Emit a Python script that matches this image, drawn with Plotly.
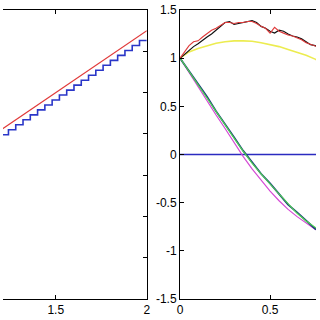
import plotly.graph_objects as go

# ---- left panel data ----
left_line_x = [1.16, 2.0]
left_line_y = [3.98, 6.5]
left_step_x = [1.16, 1.20, 1.24, 1.28, 1.32, 1.36, 1.40, 1.44, 1.48, 1.52, 1.56,
               1.60, 1.64, 1.68, 1.72, 1.76, 1.80, 1.84, 1.88, 1.92, 1.96, 2.00]
left_step_y = [3.86, 3.98, 4.10, 4.22, 4.34, 4.46, 4.58, 4.70, 4.82, 4.94, 5.06,
               5.18, 5.30, 5.42, 5.54, 5.66, 5.78, 5.90, 6.02, 6.14, 6.26, 6.26]
left_xticks = [1.5, 2]
left_xticktext = ["1.5", "2"]

# ---- right panel data ----
xs = [0, 0.05, 0.1, 0.15, 0.2, 0.25, 0.3, 0.35, 0.4, 0.45, 0.5, 0.55, 0.6, 0.65, 0.7, 0.75, 0.8]
yellow_y = [1.0, 1.065, 1.10, 1.13, 1.155, 1.17, 1.18, 1.18, 1.175, 1.16, 1.14, 1.12, 1.09, 1.06, 1.03, 0.99, 0.95]
green_y = [1.0, 0.86, 0.72, 0.58, 0.44, 0.305, 0.17, 0.035, -0.09, -0.2, -0.31, -0.41, -0.51, -0.61, -0.69, -0.76, -0.82]
magenta_y = [1.0, 0.85, 0.70, 0.55, 0.41, 0.27, 0.12, -0.02, -0.15, -0.27, -0.38, -0.48, -0.57, -0.645, -0.71, -0.775, -0.82]
dark_y = [1.0, 0.87, 0.73, 0.60, 0.45, 0.32, 0.18, 0.04, -0.08, -0.20, -0.30, -0.41, -0.52, -0.60, -0.69, -0.77, -0.82]

xf = [0, 0.025, 0.05, 0.075, 0.1, 0.125, 0.15, 0.175, 0.2, 0.225, 0.25, 0.275, 0.3, 0.325, 0.35, 0.375,
      0.4, 0.425, 0.45, 0.475, 0.5, 0.525, 0.55, 0.575, 0.6, 0.625, 0.65, 0.675, 0.7, 0.725, 0.75, 0.775]
black_y = [1.0, 1.04, 1.08, 1.12, 1.15, 1.19, 1.22, 1.25, 1.29, 1.33, 1.37, 1.38, 1.35, 1.36, 1.37, 1.38,
           1.39, 1.37, 1.33, 1.31, 1.28, 1.26, 1.29, 1.28, 1.25, 1.23, 1.22, 1.20, 1.17, 1.14, 1.13, 1.11]
red_y = [1.0, 1.07, 1.13, 1.17, 1.18, 1.22, 1.26, 1.29, 1.31, 1.34, 1.37, 1.37, 1.36, 1.37, 1.37, 1.38,
         1.38, 1.36, 1.33, 1.31, 1.26, 1.32, 1.28, 1.26, 1.24, 1.23, 1.21, 1.19, 1.16, 1.14, 1.12, 1.11]
zero_x = [0, 1]
zero_y = [0, 0]
right_yticks = [-1.5, -1, -0.5, 0, 0.5, 1, 1.5]
right_yticktext = ["-1.5", "-1", "-0.5", "0", "0.5", "1", "1.5"]
right_xticks = [0, 0.5]
right_xticktext = ["0", "0.5"]

fig = go.Figure()

def add(x, y, color, width, ax, shape="linear"):
    fig.add_trace(go.Scatter(x=x, y=y, mode="lines", line=dict(color=color, width=width, shape=shape),
                             xaxis=ax[0], yaxis=ax[1], showlegend=False, hoverinfo="skip"))

add(left_step_x, left_step_y, "#2a36c8", 1.6, ("x", "y"), "hv")
add(left_line_x, left_line_y, "#e03a3a", 1.1, ("x", "y"))

R = ("x2", "y2")
add(zero_x, zero_y, "#2b2bc0", 1.3, R)
add(xs, yellow_y, "#ecec50", 1.6, R)
add(xs, magenta_y, "#d54ad5", 1.2, R)
add(xs, dark_y, "#1b3f7a", 1.8, R)
add(xs, green_y, "#4fd64f", 1.1, R)
add(xf, black_y, "#111111", 1.2, R)
add(xf, red_y, "#e03a3a", 1.1, R)

font = dict(family="Arial", size=12, color="black")
axcommon = dict(showgrid=False, zeroline=False, showline=True, linecolor="black", linewidth=1,
                ticks="inside", ticklen=4, tickcolor="black", tickfont=font)

fig.update_layout(
    width=320, height=320,
    margin=dict(l=0, r=0, t=10, b=21),
    paper_bgcolor="white", plot_bgcolor="white",
    xaxis=dict(domain=[0, 147/320], range=[1.21, 2.0], tickvals=left_xticks, ticktext=left_xticktext,
               mirror="ticks", anchor="y", **axcommon),
    yaxis=dict(range=[0, 7], dtick=1, side="right", showticklabels=False, anchor="x", **axcommon),
    xaxis2=dict(domain=[181/320, 1], range=[0, 0.755], tickvals=right_xticks, ticktext=right_xticktext,
                mirror="ticks", anchor="y2", **axcommon),
    yaxis2=dict(range=[-1.5, 1.5], tickvals=right_yticks, ticktext=right_yticktext, anchor="x2", **axcommon),
)

fig.write_html("out.html", config={"displayModeBar": False},
               post_script="document.body.style.margin='0';document.body.style.overflow='hidden';")
